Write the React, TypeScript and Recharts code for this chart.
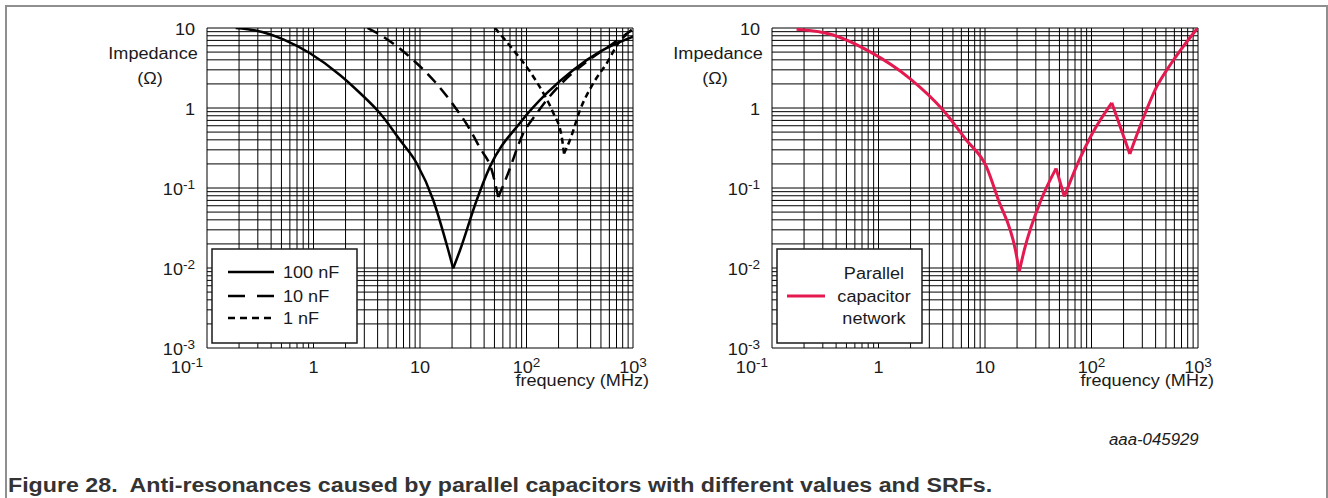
import React from "react";
import { CartesianGrid, Line, LineChart, XAxis, YAxis } from "recharts";

// frequency (MHz) / impedance (ohm)
const f100n = [0.186, 0.293, 0.52, 0.927, 1.77, 2.73, 4.21, 6.49, 9.31, 13.3, 18.4, 20.5, 23.8, 34.1, 45.4, 86.8, 155, 275, 490, 1000];
const z100n = [10, 9.25, 7.22, 4.83, 2.59, 1.54, 0.859, 0.398, 0.204, 0.0708, 0.0168, 0.0099, 0.0168, 0.0708, 0.185, 0.65, 1.53, 2.99, 5.06, 7.78];

const f10n = [3.21, 4.52, 8.98, 13.8, 20.6, 28.4, 36.6, 47.1, 54.3, 65.2, 93.3, 125, 155, 238, 367, 653, 973];
const z10n = [10, 7.78, 3.79, 2.13, 1.09, 0.583, 0.316, 0.168, 0.077, 0.138, 0.483, 0.859, 1.26, 2.35, 3.79, 6.44, 9.44];

const f1n = [50.6, 75.2, 108, 144, 179, 214, 225, 256, 318, 424, 566, 728, 973];
const z1n = [10, 5.31, 2.84, 1.53, 0.859, 0.438, 0.27, 0.398, 0.944, 2.04, 3.62, 6.44, 9.44];

const fNet = [0.17, 0.375, 0.828, 1.96, 4.03, 6.67, 10.3, 13.2, 19.3, 21, 23.4, 33.6, 46.5, 55.6, 76.8, 102, 155, 229, 301, 402, 574, 985];
const zNet = [9.63, 8.18, 5.06, 2.35, 0.944, 0.398, 0.185, 0.074, 0.0168, 0.0091, 0.0168, 0.0708, 0.176, 0.078, 0.224, 0.483, 1.16, 0.266, 0.708, 1.76, 3.79, 9.9];

const xDecades = [-1, 0, 1, 2, 3];
const yDecades = [-3, -2, -1, 0, 1];

const RED = "#e4194f";
const INK = "#1a1a1a";
const FONT = "'Liberation Sans', Arial, sans-serif";
const SX = 1.13; // the figure's lettering is a bit wider than plain Arial

// full log grid: 1..9 in every decade, plus the top one
function logTicks(decades: number[]) {
  const out: number[] = [];
  for (let i = 0; i < decades.length - 1; i++) {
    for (let m = 1; m < 10; m++) out.push(Number((m * 10 ** decades[i]).toPrecision(2)));
  }
  out.push(10 ** decades[decades.length - 1]);
  return out;
}
const xTicks = logTicks(xDecades);
const yTicks = logTicks(yDecades);

const toRows = (f: number[], z: number[]) => f.map((v, i) => ({ f: v, z: z[i] }));

// split at every local min/max so the curve stays smooth but keeps its sharp resonance tips
function branches(f: number[], z: number[]) {
  const rows = toRows(f, z);
  const cuts = [0];
  for (let i = 1; i < rows.length - 1; i++) {
    if ((rows[i].z - rows[i - 1].z) * (rows[i + 1].z - rows[i].z) < 0) cuts.push(i);
  }
  cuts.push(rows.length - 1);
  return cuts.slice(1).map((end, k) => rows.slice(cuts[k], end + 1));
}

function decadeOf(v: number) {
  const e = Math.round(Math.log10(v));
  return Math.abs(Math.log10(v) - e) < 1e-6 ? e : null;
}

function Pow({ e }: { e: number }) {
  if (e === 0) return <>1</>;
  if (e === 1) return <>10</>;
  return (
    <>
      10
      <tspan dy={-6} fontSize={12}>
        {e < 0 ? `-${-e}` : e}
      </tspan>
    </>
  );
}

// text widened horizontally around its anchor point
function Wide({ x, y, anchor = "start", size = 16, children }: any) {
  return (
    <g transform={`translate(${x},${y}) scale(${SX},1)`}>
      <text x={0} y={0} textAnchor={anchor} fontSize={size} fill={INK} fontFamily={FONT}>
        {children}
      </text>
    </g>
  );
}

function XTick({ x, y, payload }: any) {
  const e = decadeOf(payload.value);
  if (e === null) return null;
  const first = e === xDecades[0];
  return (
    <Wide x={first ? x - 4 : x} y={y + 25} anchor={first ? "end" : "middle"}>
      <Pow e={e} />
    </Wide>
  );
}

function YTick({ x, y, payload }: any) {
  const e = decadeOf(payload.value);
  if (e === null) return null;
  return (
    <Wide x={x - 12} y={y + 6.5} anchor="end">
      <Pow e={e} />
    </Wide>
  );
}

function YTitle({ viewBox }: any) {
  const cx = viewBox.x + viewBox.width - 54;
  return (
    <g>
      <Wide x={cx} y={viewBox.y + 31} anchor="middle">Impedance</Wide>
      <Wide x={cx - 3} y={viewBox.y + 56} anchor="middle">(Ω)</Wide>
    </g>
  );
}

function XTitle({ viewBox }: any) {
  return (
    <Wide x={viewBox.x + viewBox.width + 16} y={viewBox.y + 38} anchor="end">
      frequency (MHz)
    </Wide>
  );
}

function Plot({ children }: { children: React.ReactNode }) {
  return (
    <LineChart width={660} height={400} margin={{ top: 28, right: 27, bottom: 0, left: 0 }}>
      <CartesianGrid stroke="#000" strokeWidth={1} horizontal vertical fill="none" />
      <XAxis
        dataKey="f"
        type="number"
        scale="log"
        domain={[0.1, 1000]}
        ticks={xTicks}
        interval={0}
        allowDataOverflow
        axisLine={false}
        tickLine={false}
        tickSize={0}
        tickMargin={0}
        height={52}
        tick={<XTick />}
        label={{ content: (p: any) => <XTitle viewBox={p.viewBox} /> }}
      />
      <YAxis
        type="number"
        scale="log"
        domain={[0.001, 10]}
        ticks={yTicks}
        interval={0}
        allowDataOverflow
        axisLine={false}
        tickLine={false}
        tickSize={0}
        tickMargin={0}
        width={207}
        tick={<YTick />}
        label={{ content: (p: any) => <YTitle viewBox={p.viewBox} /> }}
      />
      {children}
    </LineChart>
  );
}

function curve(f: number[], z: number[], stroke: string, width: number, dash?: string) {
  return branches(f, z).map((rows, i) => (
    <Line
      key={i}
      data={rows}
      dataKey="z"
      type="monotone"
      stroke={stroke}
      strokeWidth={width}
      strokeDasharray={dash}
      strokeLinejoin="round"
      dot={false}
      activeDot={false}
      isAnimationActive={false}
    />
  ));
}

export default function App() {
  return (
    <div
      style={{
        position: "absolute",
        left: 0,
        top: 0,
        width: 1328,
        height: 498,
        overflow: "hidden",
        background: "#fff",
        fontFamily: FONT,
      }}
    >
      <div
        style={{
          position: "absolute",
          left: 5,
          top: 5,
          width: 1319,
          height: 600,
          border: "2px solid #8f8f8f",
        }}
      />

      <div style={{ position: "absolute", left: 0, top: 0 }}>
        <Plot>
          {curve(f100n, z100n, "#000", 2.5)}
          {curve(f10n, z10n, "#000", 2.5, "12 7")}
          {curve(f1n, z1n, "#000", 2.5, "6 4")}
        </Plot>
      </div>

      <div style={{ position: "absolute", left: 565, top: 0 }}>
        <Plot>{curve(fNet, zNet, RED, 3)}</Plot>
      </div>

      {/* left legend */}
      <svg style={{ position: "absolute", left: 211, top: 248 }} width={147} height={96}>
        <rect x={1} y={1} width={145} height={94} fill="#fff" stroke={INK} strokeWidth={1.5} />
        <line x1={17} x2={63} y1={24} y2={24} stroke="#000" strokeWidth={2.5} />
        <line x1={17} x2={63} y1={48} y2={48} stroke="#000" strokeWidth={2.5} strokeDasharray="17 12" />
        <line x1={17} x2={63} y1={70} y2={70} stroke="#000" strokeWidth={2.5} strokeDasharray="7 5" />
        <Wide x={72} y={30}>100 nF</Wide>
        <Wide x={72} y={54}>10 nF</Wide>
        <Wide x={72} y={76}>1 nF</Wide>
      </svg>

      {/* right legend */}
      <svg style={{ position: "absolute", left: 776, top: 248 }} width={147} height={96}>
        <rect x={1} y={1} width={145} height={94} fill="#fff" stroke={INK} strokeWidth={1.5} />
        <line x1={11} x2={49} y1={48} y2={48} stroke={RED} strokeWidth={3} />
        <Wide x={98} y={31} anchor="middle">Parallel</Wide>
        <Wide x={98} y={54} anchor="middle">capacitor</Wide>
        <Wide x={98} y={76} anchor="middle">network</Wide>
      </svg>

      <div
        style={{
          position: "absolute",
          left: 1109,
          top: 431,
          fontSize: 16,
          fontStyle: "italic",
          color: INK,
          transform: "scaleX(1.05)",
          transformOrigin: "left",
        }}
      >
        aaa-045929
      </div>

      <div
        style={{
          position: "absolute",
          left: 8,
          top: 474,
          fontSize: 20,
          fontWeight: "bold",
          color: "#333",
          whiteSpace: "pre",
          transform: "scaleX(1.16)",
          transformOrigin: "left",
        }}
      >
        {"Figure 28.  Anti-resonances caused by parallel capacitors with different values and SRFs."}
      </div>
    </div>
  );
}
